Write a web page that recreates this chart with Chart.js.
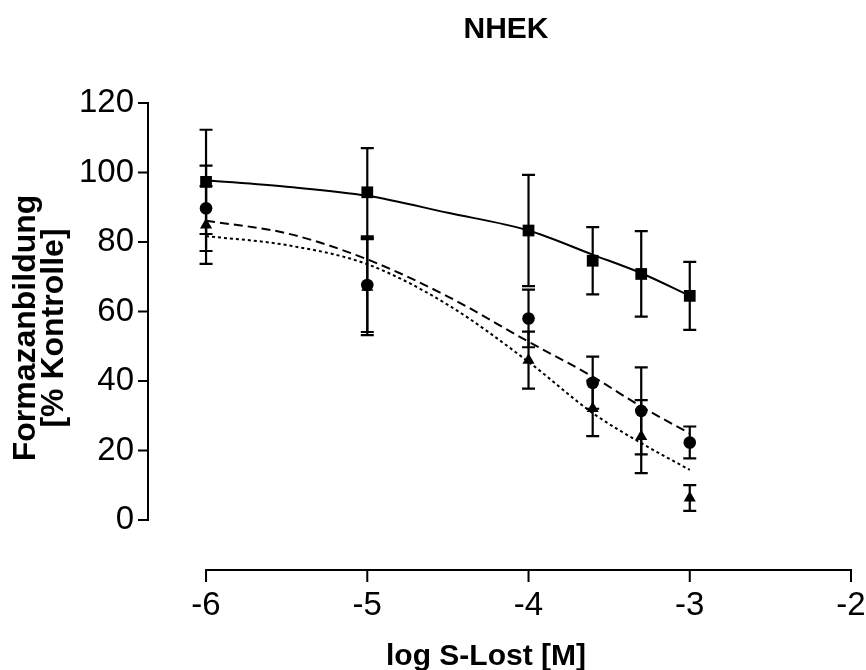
<!DOCTYPE html>
<html><head><meta charset="utf-8">
<script src="https://cdn.jsdelivr.net/npm/chart.js@4.4.0/dist/chart.umd.min.js"></script>
<style>html,body{margin:0;padding:0;background:#fff}#wrap{width:866px;height:670px}</style>
</head><body><div id="wrap"><canvas id="c" width="866" height="670"></canvas></div>
<script>
// ---- data ----
const doses = [-6, -5, -4, -3.602, -3.301, -3];
const squareMean = [97.3, 94.3, 83.3, 74.6, 70.8, 64.5];
const squareSD   = [15.0, 12.7, 16.0, 9.7, 12.3, 9.8];
const circleMean = [89.7, 67.6, 58.0, 39.5, 31.4, 22.3];
const circleSD   = [12.3, 13.5, 8.3, 7.5, 12.5, 4.6];
const triMean    = [84.9, 67.0, 46.0, 32.1, 24.0, 6.3];
const triSD      = [11.2, 13.8, 8.2, 8.0, 10.5, 3.7];
// fitted curves
const curveX      = [-6, -5.5, -5, -4.5, -4, -3.6, -3.3, -3];
const curveSolid  = [97.8, 95.9, 93.3, 88.4, 83.3, 76.3, 71.0, 64.5];
const curveDashed = [86.1, 82.5, 75.0, 64.3, 51.3, 41.2, 32.6, 24.9];
const curveDotted = [81.7, 79.1, 73.6, 61.9, 45.5, 30.7, 22.1, 14.4];
const xTicks = [-6, -5, -4, -3, -2];
const yTicks = [0, 20, 40, 60, 80, 100, 120];
const chartTitle = 'NHEK';
const xTitle = 'log S-Lost [M]';
const yTitle = ['Formazanbildung', '[% Kontrolle]'];

const FONT = '"Liberation Sans", Arial, sans-serif';
const pts = (xs, ys) => xs.map((x, i) => ({x, y: ys[i]}));

const markerSets = [
  {mean: squareMean, sd: squareSD},
  {mean: circleMean, sd: circleSD},
  {mean: triMean, sd: triSD}
];

const errorBars = {
  id: 'errorBars',
  beforeDatasetsDraw(chart) {
    const {ctx, scales: {x, y}} = chart;
    ctx.save();
    ctx.strokeStyle = '#000';
    ctx.lineWidth = 2.2;
    markerSets.forEach(s => {
      doses.forEach((d, i) => {
        const px = x.getPixelForValue(d);
        const top = y.getPixelForValue(s.mean[i] + s.sd[i]);
        const bot = y.getPixelForValue(s.mean[i] - s.sd[i]);
        ctx.beginPath();
        ctx.moveTo(px, top); ctx.lineTo(px, bot);
        ctx.moveTo(px - 6.5, top); ctx.lineTo(px + 6.5, top);
        ctx.moveTo(px - 6.5, bot); ctx.lineTo(px + 6.5, bot);
        ctx.stroke();
      });
    });
    ctx.restore();
  }
};

const axesAndText = {
  id: 'axesAndText',
  afterDraw(chart) {
    const {ctx, chartArea, scales: {x, y}} = chart;
    ctx.save();
    ctx.strokeStyle = '#000';
    ctx.lineWidth = 2;
    ctx.lineCap = 'butt';
    // y axis
    const x0 = chartArea.left;
    ctx.beginPath();
    ctx.moveTo(x0, y.getPixelForValue(yTicks[0]) + 1);
    ctx.lineTo(x0, y.getPixelForValue(yTicks[yTicks.length - 1]) - 1);
    yTicks.forEach(v => {
      const py = y.getPixelForValue(v);
      ctx.moveTo(x0 - 10, py); ctx.lineTo(x0, py);
    });
    ctx.stroke();
    // x axis
    const y0 = chartArea.bottom;
    ctx.beginPath();
    ctx.moveTo(x.getPixelForValue(xTicks[0]) - 1, y0);
    ctx.lineTo(x.getPixelForValue(xTicks[xTicks.length - 1]) + 1, y0);
    xTicks.forEach(v => {
      const px = x.getPixelForValue(v);
      ctx.moveTo(px, y0); ctx.lineTo(px, y0 + 12);
    });
    ctx.stroke();
    // texts
    ctx.fillStyle = '#000';
    ctx.textAlign = 'center';
    ctx.textBaseline = 'middle';
    ctx.font = 'bold 30px ' + FONT;
    ctx.fillText(chartTitle, 506, 30);
    ctx.font = 'bold 30px ' + FONT;
    ctx.fillText(xTitle, 486, 657);
    ctx.save();
    ctx.translate(26, 328);
    ctx.rotate(-Math.PI / 2);
    ctx.font = 'bold 32px ' + FONT;
    ctx.fillText(yTitle[0], 0, 0);
    ctx.fillText(yTitle[1], 0, 28);
    ctx.restore();
    ctx.restore();
  }
};

new Chart(document.getElementById('c'), {
  type: 'scatter',
  data: {
    datasets: [
      {data: pts(curveX, curveSolid), showLine: true, borderColor: '#000', borderWidth: 2,
       pointRadius: 0, cubicInterpolationMode: 'monotone', fill: false},
      {data: pts(curveX, curveDashed), showLine: true, borderColor: '#000', borderWidth: 2,
       borderDash: [9, 5], pointRadius: 0, cubicInterpolationMode: 'monotone', fill: false},
      {data: pts(curveX, curveDotted), showLine: true, borderColor: '#000', borderWidth: 2,
       borderDash: [3, 3], pointRadius: 0, cubicInterpolationMode: 'monotone', fill: false},
      {data: pts(doses, squareMean), showLine: false, pointStyle: 'rect', pointRadius: 8.3,
       backgroundColor: '#000', borderColor: '#000', borderWidth: 0},
      {data: pts(doses, circleMean), showLine: false, pointStyle: 'circle', pointRadius: 6.3,
       backgroundColor: '#000', borderColor: '#000', borderWidth: 0},
      {data: pts(doses, triMean), showLine: false, pointStyle: 'triangle', pointRadius: 7,
       backgroundColor: '#000', borderColor: '#000', borderWidth: 0}
    ]
  },
  options: {
    responsive: false,
    animation: false,
    devicePixelRatio: 1,
    layout: {padding: {top: 103, right: 15, bottom: 0, left: 0}},
    plugins: {legend: {display: false}, tooltip: {enabled: false}, title: {display: false}},
    scales: {
      x: {
        type: 'linear', min: -6.36, max: -2,
        border: {display: false},
        grid: {display: false, drawTicks: false},
        afterBuildTicks: s => { s.ticks = xTicks.map(v => ({value: v})); },
        afterFit: s => { s.height = 100; s.paddingLeft = 0; s.paddingRight = 0; },
        ticks: {color: '#000', padding: 16, font: {family: FONT, size: 33}, maxRotation: 0, autoSkip: false}
      },
      y: {
        type: 'linear', min: -14.4, max: 120,
        border: {display: false},
        grid: {display: false, drawTicks: false},
        afterBuildTicks: s => { s.ticks = yTicks.map(v => ({value: v})); },
        afterFit: s => { s.width = 148; s.paddingTop = 0; s.paddingBottom = 0; },
        ticks: {color: '#000', padding: 14, font: {family: FONT, size: 33}, autoSkip: false}
      }
    }
  },
  plugins: [errorBars, axesAndText]
});
</script>
</body></html>
